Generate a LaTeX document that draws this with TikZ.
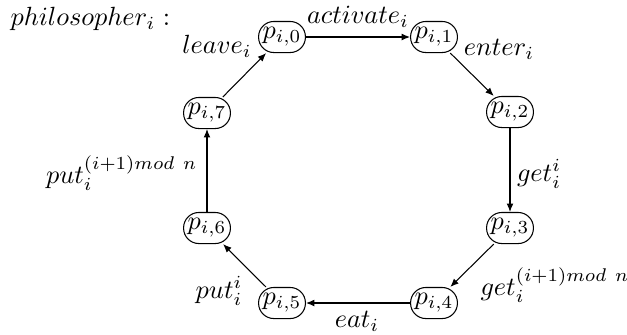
\documentclass[tikz,border=0pt]{standalone}
\usetikzlibrary{arrows.meta}
\begin{document}
\begin{tikzpicture}[x=0.38pt,y=-0.38pt,
  state/.style={draw,rectangle,rounded corners=5.8pt,minimum width=17.8pt,minimum height=11.8pt,inner sep=0pt},
  lbl/.style={inner sep=0pt},
  tr/.style={-{Latex[length=3.2pt,width=2.6pt]}}]
\useasboundingbox (0,0) rectangle (627,334);
\node[lbl,anchor=west] (title) at (10,19) {$philosopher_i:$};
\node[state] (p0) at (282,37) {$p_{i,0}$};
\node[state] (p1) at (434,37) {$p_{i,1}$};
\node[state] (p2) at (510,112) {$p_{i,2}$};
\node[state] (p3) at (510,228) {$p_{i,3}$};
\node[state] (p4) at (434,303) {$p_{i,4}$};
\node[state] (p5) at (282,303) {$p_{i,5}$};
\node[state] (p6) at (207,228) {$p_{i,6}$};
\node[state] (p7) at (207,113) {$p_{i,7}$};
\draw[tr] (p0) -- (p1);
\draw[tr] (p1) -- (p2);
\draw[tr] (p2) -- (p3);
\draw[tr] (p3) -- (p4);
\draw[tr] (p4) -- (p5);
\draw[tr] (p5) -- (p6);
\draw[tr] (p6) -- (p7);
\draw[tr] (p7) -- (p0);
\node[lbl] (lact) at (358,17) {$activate_i$};
\node[lbl] (lent) at (499,49) {$enter_i$};
\node[lbl] (lget) at (539,174) {$get_i^i$};
\node[lbl,anchor=west] (lget2) at (480,285) {$get_i^{(i+1)mod\ n}$};
\node[lbl] (leat) at (357,321) {$eat_i$};
\node[lbl] (lput) at (219,291) {$put_i^i$};
\node[lbl,anchor=east] (lput2) at (198,173) {$put_i^{(i+1)mod\ n}$};
\node[lbl] (llea) at (217,46) {$leave_i$};
\end{tikzpicture}
\end{document}
